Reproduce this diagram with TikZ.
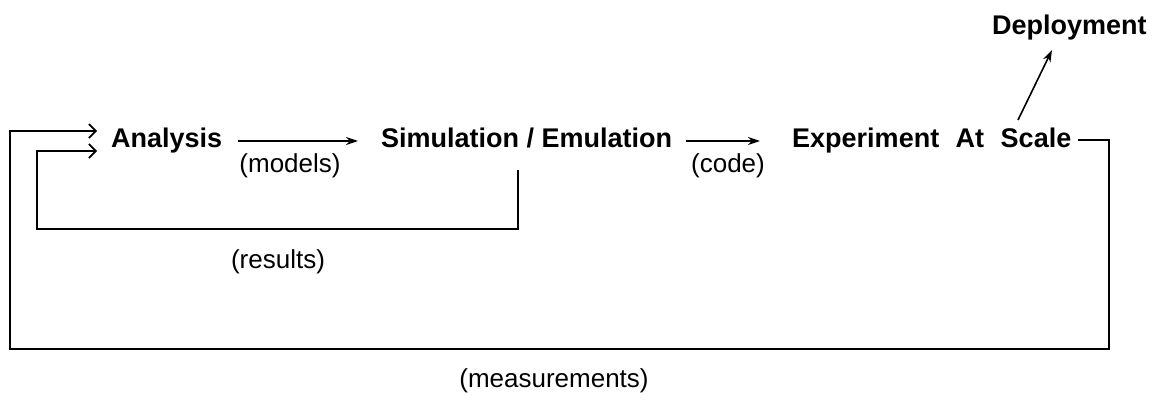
\documentclass[tikz,border=0pt]{standalone}
\usepackage{fontspec}
\setmainfont{Liberation Sans}
\usetikzlibrary{arrows.meta}
\begin{document}
\begin{tikzpicture}[x=1pt,y=-1pt,
  title/.style={font=\fontsize{27}{32}\selectfont\bfseries, inner sep=0pt, anchor=base west},
  lbl/.style={font=\fontsize{26}{31}\selectfont, inner sep=0pt},
  conn/.style={line width=1.6pt},
  arr/.style={conn, -{Stealth[length=12pt,width=8pt]}},
  barb/.style={conn, -{Straight Barb[length=7pt,width=14pt]}}]
\useasboundingbox (0,0) rectangle (1154,401);
% main nodes
\node[title] (ana) at (111,147) {Analysis};
\node[title] (sim) at (381,147) {Simulation / Emulation};
\node[title] (exp) at (792,147) {Experiment\hspace{9pt} At\hspace{9pt} Scale};
\node[title] (dep) at (992,35) {Deployment};
% labels
\node[lbl] (models) at (290,166) {(models)};
\node[lbl] (code) at (728,166) {(code)};
\node[lbl] (results) at (278,262) {(results)};
\node[lbl] (meas) at (554,381) {(measurements)};
% coordinates for loops
\coordinate (otip) at (97,131);
\coordinate (itip) at (97,151);
\coordinate (orb) at (1109,349);
\coordinate (olt) at (10,131);
\coordinate (irs) at (518,170);
\coordinate (irb) at (518,229);
\coordinate (ilt) at (37,151);
\coordinate (d1) at (1018,120);
\coordinate (d2) at (1052,50);
% forward arrows
\draw[arr, shorten <=16pt, shorten >=23pt] ([yshift=6pt]ana.base east) -- ([yshift=6pt]sim.base west);
\draw[arr, shorten <=14pt, shorten >=32pt] ([yshift=6pt]sim.base east) -- ([yshift=6pt]exp.base west);
\draw[arr] (d1) -- (d2);
% outer loop
\draw[barb] ([xshift=6pt,yshift=7pt]exp.base east) -| (orb) -| (olt) -- (otip);
% inner loop
\draw[barb] (irs) -- (irb) -| (ilt) -- (itip);
\end{tikzpicture}
\end{document}
